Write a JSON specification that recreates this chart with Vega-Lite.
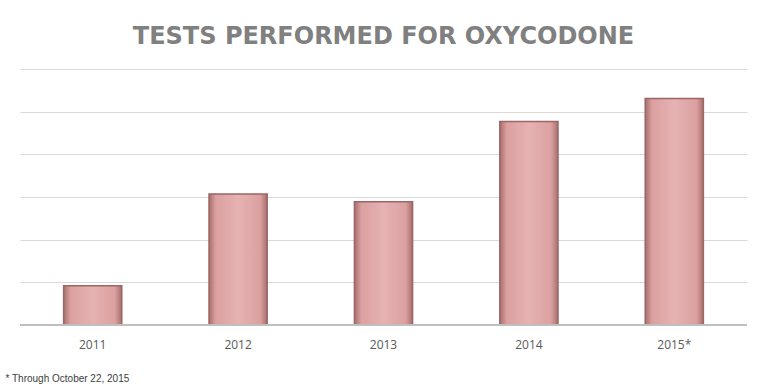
{
  "$schema": "https://vega.github.io/schema/vega-lite/v6.json",
  "width": 727,
  "height": 256,
  "autosize": {"type": "none"},
  "padding": {"left": 20, "top": 69, "right": 17, "bottom": 63},
  "background": "white",
  "title": {
    "text": "TESTS PERFORMED FOR OXYCODONE",
    "anchor": "middle",
    "frame": "group",
    "font": "DejaVu Sans",
    "fontSize": 24,
    "fontWeight": "bold",
    "color": "#808080",
    "baseline": "alphabetic",
    "offset": 1
  },
  "data": {
    "values": [
      {"year": "2011", "tests": 92},
      {"year": "2012", "tests": 307},
      {"year": "2013", "tests": 289},
      {"year": "2014", "tests": 477},
      {"year": "2015*", "tests": 531}
    ]
  },
  "config": {"view": {"stroke": null}},
  "layer": [
    {
      "mark": {
        "type": "bar",
        "color": {
          "gradient": "linear",
          "x1": 0, "y1": 0, "x2": 1, "y2": 0,
          "stops": [
            {"offset": 0, "color": "#a86f6f"},
            {"offset": 0.12, "color": "#dca0a0"},
            {"offset": 0.5, "color": "#e6b2b2"},
            {"offset": 0.88, "color": "#dca0a0"},
            {"offset": 1, "color": "#a86f6f"}
          ]
        },
        "stroke": "#9a6666",
        "strokeWidth": 1.5
      },
      "encoding": {
        "x": {
          "field": "year",
          "type": "nominal",
          "sort": null,
          "scale": {"paddingInner": 0.6, "paddingOuter": 0.3},
          "axis": {
            "title": "* Through October 22, 2015",
            "titleAnchor": "start",
            "titleAlign": "left",
            "titleX": -15,
            "titleY": 56,
            "titleBaseline": "alphabetic",
            "titleFont": "Liberation Sans",
            "titleFontSize": 10,
            "titleFontWeight": "normal",
            "titleColor": "#404040",
            "labelFont": "Open Sans",
            "labelFontSize": 12,
            "labelColor": "#595959",
            "labelAngle": 0,
            "labelPadding": 14,
            "ticks": false,
            "domain": false
          }
        },
        "y": {
          "field": "tests",
          "type": "quantitative",
          "scale": {"domain": [0, 600]},
          "axis": {
            "title": null,
            "labels": false,
            "ticks": false,
            "domain": false,
            "values": [100, 200, 300, 400, 500, 600],
            "gridColor": "#d9d9d9",
            "gridWidth": 1
          }
        }
      }
    },
    {
      "mark": {"type": "rule", "color": "#bfbfbf", "strokeWidth": 2},
      "encoding": {"y": {"datum": 0, "type": "quantitative"}}
    }
  ]
}
